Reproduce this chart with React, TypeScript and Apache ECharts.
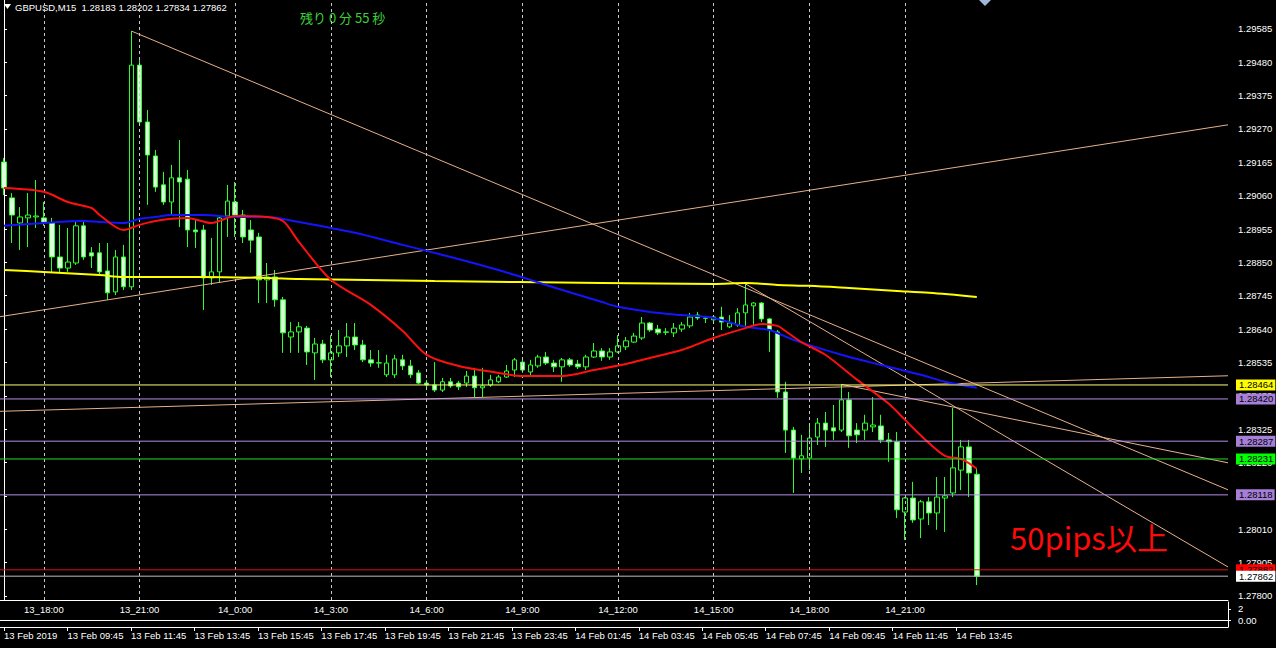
import React, { useEffect, useRef } from 'react';
import * as echarts from 'echarts';

// ---------- data ----------
const SLOT_COUNT = 154; // bar slots on the time axis (123 bars + empty right shift)

const open = [
  1.29166, 1.29053, 1.28974, 1.28990, 1.28993, 1.28990, 1.28974, 1.28867, 1.28832, 1.28848,
  1.28965, 1.28880, 1.28880, 1.28823, 1.28757, 1.28867, 1.28773, 1.29471, 1.29292, 1.29185,
  1.29094, 1.29040, 1.29116, 1.29112, 1.28952, 1.28952, 1.28801, 1.28820, 1.28996, 1.29040,
  1.28999, 1.28952, 1.28930, 1.28795, 1.28804, 1.28732, 1.28615, 1.28631, 1.28643, 1.28565,
  1.28593, 1.28543, 1.28565, 1.28587, 1.28615, 1.28590, 1.28543, 1.28533, 1.28496, 1.28496,
  1.28543, 1.28524, 1.28502, 1.28470, 1.28464, 1.28448, 1.28474, 1.28470, 1.28470, 1.28492,
  1.28455, 1.28464, 1.28474, 1.28489, 1.28511, 1.28536, 1.28505, 1.28524, 1.28552, 1.28533,
  1.28521, 1.28543, 1.28530, 1.28521, 1.28552, 1.28571, 1.28552, 1.28568, 1.28584, 1.28599,
  1.28612, 1.28659, 1.28640, 1.28631, 1.28628, 1.28640, 1.28650, 1.28684, 1.28675, 1.28669,
  1.28678, 1.28647, 1.28653, 1.28691, 1.28713, 1.28722, 1.28672, 1.28631, 1.28442, 1.28322,
  1.28231, 1.28234, 1.28300, 1.28344, 1.28329, 1.28322, 1.28417, 1.28322, 1.28322, 1.28332,
  1.28335, 1.28291, 1.28285, 1.28064, 1.28108, 1.28042, 1.28096, 1.28061, 1.28108, 1.28124,
  1.28196, 1.28269, 1.28183,
];
const high = [
  1.29179, 1.29068, 1.29024, 1.29068, 1.29109, 1.29040, 1.28990, 1.28968, 1.28958, 1.28977,
  1.28983, 1.28898, 1.28911, 1.28911, 1.28889, 1.28905, 1.29578, 1.29487, 1.29330, 1.29204,
  1.29135, 1.29157, 1.29235, 1.29141, 1.28983, 1.28968, 1.28927, 1.28999, 1.29094, 1.29103,
  1.29015, 1.28983, 1.28943, 1.28848, 1.28826, 1.28741, 1.28662, 1.28662, 1.28650, 1.28612,
  1.28606, 1.28621, 1.28637, 1.28659, 1.28659, 1.28606, 1.28574, 1.28574, 1.28559, 1.28559,
  1.28559, 1.28543, 1.28511, 1.28480, 1.28536, 1.28486, 1.28486, 1.28477, 1.28508, 1.28518,
  1.28518, 1.28496, 1.28496, 1.28527, 1.28549, 1.28543, 1.28543, 1.28559, 1.28568, 1.28543,
  1.28549, 1.28549, 1.28543, 1.28559, 1.28596, 1.28580, 1.28580, 1.28621, 1.28615, 1.28628,
  1.28678, 1.28662, 1.28653, 1.28643, 1.28659, 1.28662, 1.28691, 1.28694, 1.28678, 1.28684,
  1.28710, 1.28684, 1.28706, 1.28782, 1.28725, 1.28725, 1.28675, 1.28637, 1.28474, 1.28332,
  1.28307, 1.28344, 1.28360, 1.28379, 1.28401, 1.28466, 1.28442, 1.28344, 1.28370, 1.28426,
  1.28370, 1.28313, 1.28316, 1.28111, 1.28159, 1.28102, 1.28111, 1.28174, 1.28174, 1.28392,
  1.28291, 1.28291, 1.28202,
];
const low = [
  1.29062, 1.28911, 1.28889, 1.28898, 1.28958, 1.28965, 1.28817, 1.28817, 1.28820, 1.28842,
  1.28858, 1.28832, 1.28810, 1.28732, 1.28747, 1.28763, 1.28763, 1.29286, 1.29031, 1.29072,
  1.29031, 1.28999, 1.28961, 1.28898, 1.28895, 1.28700, 1.28779, 1.28785, 1.28930, 1.28930,
  1.28911, 1.28880, 1.28722, 1.28722, 1.28710, 1.28565, 1.28565, 1.28565, 1.28527, 1.28480,
  1.28533, 1.28489, 1.28552, 1.28552, 1.28574, 1.28536, 1.28521, 1.28518, 1.28489, 1.28486,
  1.28511, 1.28486, 1.28467, 1.28448, 1.28442, 1.28442, 1.28455, 1.28448, 1.28458, 1.28426,
  1.28426, 1.28458, 1.28470, 1.28486, 1.28489, 1.28502, 1.28489, 1.28518, 1.28527, 1.28505,
  1.28474, 1.28521, 1.28514, 1.28511, 1.28549, 1.28540, 1.28543, 1.28565, 1.28574, 1.28596,
  1.28606, 1.28631, 1.28621, 1.28621, 1.28615, 1.28631, 1.28643, 1.28669, 1.28659, 1.28662,
  1.28637, 1.28643, 1.28647, 1.28647, 1.28653, 1.28662, 1.28568, 1.28423, 1.28250, 1.28124,
  1.28187, 1.28196, 1.28275, 1.28269, 1.28291, 1.28316, 1.28266, 1.28281, 1.28291, 1.28316,
  1.28281, 1.28222, 1.28045, 1.27976, 1.28030, 1.27982, 1.28023, 1.28008, 1.28001, 1.28111,
  1.28133, 1.28111, 1.27834,
];
const close = [
  1.29084, 1.28999, 1.28993, 1.28999, 1.28996, 1.28977, 1.28867, 1.28832, 1.28851, 1.28965,
  1.28867, 1.28870, 1.28820, 1.28754, 1.28867, 1.28773, 1.29471, 1.29292, 1.29188, 1.29087,
  1.29040, 1.29116, 1.29103, 1.28952, 1.28946, 1.28801, 1.28820, 1.28990, 1.29043, 1.28999,
  1.28930, 1.28920, 1.28795, 1.28804, 1.28732, 1.28628, 1.28631, 1.28647, 1.28568, 1.28593,
  1.28543, 1.28565, 1.28587, 1.28615, 1.28590, 1.28543, 1.28533, 1.28534, 1.28533, 1.28546,
  1.28524, 1.28496, 1.28470, 1.28464, 1.28448, 1.28474, 1.28461, 1.28458, 1.28492, 1.28455,
  1.28461, 1.28480, 1.28489, 1.28508, 1.28543, 1.28511, 1.28527, 1.28552, 1.28533, 1.28521,
  1.28543, 1.28527, 1.28521, 1.28552, 1.28571, 1.28552, 1.28568, 1.28587, 1.28603, 1.28618,
  1.28659, 1.28637, 1.28628, 1.28630, 1.28643, 1.28653, 1.28678, 1.28675, 1.28674, 1.28678,
  1.28662, 1.28659, 1.28691, 1.28716, 1.28722, 1.28672, 1.28637, 1.28442, 1.28322, 1.28234,
  1.28241, 1.28297, 1.28344, 1.28322, 1.28319, 1.28417, 1.28304, 1.28307, 1.28344, 1.28338,
  1.28291, 1.28285, 1.28071, 1.28108, 1.28039, 1.28096, 1.28061, 1.28111, 1.28115, 1.28203,
  1.28269, 1.28187, 1.27862,
];

// moving averages: [bar index, price]
const maFast = [
  [0, 1.29084], [5, 1.29072], [8, 1.29040], [11, 1.29021], [12, 1.28999], [15, 1.28952],
  [17, 1.28968], [19, 1.28980], [21, 1.28987], [23, 1.28990], [26, 1.28974], [29, 1.28996],
  [33, 1.28993], [35, 1.28980], [37, 1.28914], [41, 1.28795], [46, 1.28716], [50, 1.28634],
  [53, 1.28559], [57, 1.28524], [62, 1.28502], [65, 1.28492], [70, 1.28492], [74, 1.28511],
  [78, 1.28530], [81, 1.28549], [85, 1.28574], [89, 1.28612], [93, 1.28643], [95, 1.28656],
  [97, 1.28650], [98, 1.28634], [100, 1.28599], [103, 1.28559], [107, 1.28480], [111, 1.28404],
  [113, 1.28354], [116, 1.28281], [118, 1.28241], [120, 1.28231], [121, 1.28218], [122, 1.28200],
];
const maMid = [
  [0, 1.28965], [5, 1.28974], [10, 1.28980], [12, 1.28977], [15, 1.28974], [17, 1.28987],
  [19, 1.28993], [21, 1.28999], [25, 1.28999], [29, 1.28993], [33, 1.28993], [37, 1.28977],
  [44, 1.28943], [50, 1.28905], [56, 1.28867], [62, 1.28826], [66, 1.28795], [70, 1.28763],
  [75, 1.28725], [77, 1.28710], [81, 1.28694], [85, 1.28684], [89, 1.28675], [93, 1.28647],
  [96, 1.28637], [99, 1.28606], [106, 1.28552], [110, 1.28527], [115, 1.28496], [118, 1.28474],
  [122, 1.28455],
];
const maSlow = [
  [0, 1.28826], [5, 1.28820], [12, 1.28810], [15, 1.28804], [25, 1.28804], [33, 1.28801],
  [37, 1.28798], [54, 1.28791], [75, 1.28785], [89, 1.28782], [93, 1.28785], [97, 1.28779],
  [101, 1.28776], [106, 1.28769], [112, 1.28760], [116, 1.28754], [122, 1.28741],
];

// trend lines: [bar index, price] end points
const trendA = [[-0.5, 1.28679], [153.5, 1.29283]];
const trendB = [[16, 1.29578], [153.5, 1.28134]];
const trendC = [[93, 1.28782], [153.5, 1.27891]];
const trendD = [[105, 1.28466], [153.5, 1.28219]];
const trendE = [[-0.5, 1.28381], [153.5, 1.28493]];

// horizontal price levels
const levelPrices = [1.28464, 1.28420, 1.28287, 1.28231, 1.28118, 1.27882, 1.27862];

// price axis tick labels
const priceTicks = [
  1.29585, 1.29480, 1.29375, 1.29270, 1.29165, 1.29060, 1.28955, 1.28850, 1.28745,
  1.28640, 1.28535, 1.28430, 1.28325, 1.28220, 1.28115, 1.28010, 1.27905, 1.27800,
];

// JST labels (indicator) at bar indices
const jstIdx = [5, 17, 29, 41, 53, 65, 77, 89, 101, 113];
const jstLabels = ['13_18:00', '13_21:00', '14_0:00', '14_3:00', '14_6:00', '14_9:00', '14_12:00', '14_15:00', '14_18:00', '14_21:00'];

// server time axis labels at bar indices
const timeIdx = [0, 8, 16, 24, 32, 40, 48, 56, 64, 72, 80, 88, 96, 104, 112, 120];
const timeLabels = [
  '13 Feb 2019', '13 Feb 09:45', '13 Feb 11:45', '13 Feb 13:45', '13 Feb 15:45', '13 Feb 17:45',
  '13 Feb 19:45', '13 Feb 21:45', '13 Feb 23:45', '14 Feb 01:45', '14 Feb 03:45', '14 Feb 05:45',
  '14 Feb 07:45', '14 Feb 09:45', '14 Feb 11:45', '14 Feb 13:45',
];

const subTicks = [0, 2];

// ---------- styling ----------
const FONT = '"Liberation Sans", Arial, sans-serif';
const levelStyles = [
  { line: '#ffff70', box: '#ffff00' },
  { line: '#b38ee6', box: '#a57fd8' },
  { line: '#b38ee6', box: '#a57fd8' },
  { line: '#22dd22', box: '#00ff00' },
  { line: '#b38ee6', box: '#a57fd8' },
  { line: '#e01010', box: '#ff0000' },
  { line: '#bdbdbd', box: '#ffffff' },
];
const TREND_COLOR = '#e7b08c';

function buildOption() {
  const slots = Array.from({ length: SLOT_COUNT }, (_, i) => String(i));
  const jstMap = new Map(jstIdx.map((k, j) => [k, jstLabels[j]]));
  const timeMap = new Map(timeIdx.map((k, j) => [k, timeLabels[j]]));
  const last = open.length - 1;
  const header = `GBPUSD,M15  ${open[last].toFixed(5)} ${high[last].toFixed(5)} ${low[last].toFixed(5)} ${close[last].toFixed(5)}`;

  const trendSeries = [trendA, trendB, trendC, trendD, trendE].map((d) => ({
    type: 'line',
    xAxisIndex: 1,
    yAxisIndex: 0,
    data: d,
    symbol: 'none',
    silent: true,
    z: 4,
    lineStyle: { color: TREND_COLOR, width: 1 },
  }));

  const maSeries = [
    { d: maSlow, c: '#ffff00' },
    { d: maMid, c: '#1414ff' },
    { d: maFast, c: '#ff1010' },
  ].map((m) => ({
    type: 'line',
    xAxisIndex: 1,
    yAxisIndex: 0,
    data: m.d,
    symbol: 'none',
    smooth: 0.3,
    silent: true,
    z: 5,
    lineStyle: { color: m.c, width: 2 },
  }));

  const levelSeries = levelPrices.map((p, j) => ({
    type: 'line',
    xAxisIndex: 1,
    yAxisIndex: 0,
    data: [[-0.5, p], [SLOT_COUNT - 0.5, p]],
    symbol: 'none',
    silent: true,
    clip: false,
    z: 6,
    lineStyle: { color: levelStyles[j].line, width: 1 },
    endLabel: {
      show: true,
      distance: 8,
      formatter: () => p.toFixed(5),
      backgroundColor: levelStyles[j].box,
      color: '#000000',
      fontSize: 9.5,
      fontFamily: FONT,
      padding: [1, 2, 0, 3],
    },
  }));

  return {
    animation: false,
    backgroundColor: '#000000',
    grid: [
      { left: -4, right: 48, top: 0, height: 600 },
      { left: -4, right: 48, top: 602, height: 25 },
      { left: -10, right: 54, top: 602, height: 25 },
    ],
    xAxis: [
      {
        type: 'category', gridIndex: 0, data: slots, boundaryGap: true,
        axisLine: { show: true, lineStyle: { color: '#ffffff', width: 1 } },
        axisTick: { show: false }, axisLabel: { show: false }, splitLine: { show: false },
      },
      { type: 'value', gridIndex: 0, min: -0.5, max: SLOT_COUNT - 0.5, show: false },
      {
        type: 'category', gridIndex: 1, position: 'top', data: slots, boundaryGap: true,
        axisLine: { show: true, lineStyle: { color: '#ffffff', width: 1 } },
        axisTick: { show: false },
        axisLabel: {
          inside: true, margin: 2, color: '#ffffff', fontSize: 9.5, fontFamily: FONT,
          interval: (i: number) => jstMap.has(i),
          formatter: (_v: string, i: number) => jstMap.get(i) ?? '',
        },
      },
      {
        type: 'category', gridIndex: 1, position: 'bottom', data: slots, boundaryGap: true,
        axisLine: { show: true, lineStyle: { color: '#ffffff', width: 1 } },
        axisTick: { show: false }, axisLabel: { show: false },
      },
      {
        type: 'category', gridIndex: 2, position: 'bottom', data: slots, boundaryGap: true,
        axisLine: { show: false },
        axisTick: {
          show: true, alignWithLabel: true, length: 4, lineStyle: { color: '#ffffff' },
          interval: (i: number) => timeMap.has(i),
        },
        axisLabel: {
          margin: 3, color: '#ffffff', fontSize: 9.5, fontFamily: FONT, align: 'left',
          interval: (i: number) => timeMap.has(i),
          formatter: (_v: string, i: number) => timeMap.get(i) ?? '',
        },
      },
    ],
    yAxis: [
      {
        type: 'value', gridIndex: 0, position: 'right', min: 1.27787, max: 1.29676,
        splitLine: { show: false },
        axisLine: { show: true, lineStyle: { color: '#ffffff', width: 1 } },
        axisTick: { show: true, length: 3, customValues: priceTicks, lineStyle: { color: '#ffffff' } },
        axisLabel: {
          customValues: priceTicks, margin: 10, color: '#ffffff', fontSize: 9.5, fontFamily: FONT,
          formatter: (v: number) => v.toFixed(5),
        },
      },
      {
        type: 'value', gridIndex: 1, position: 'right', min: -1.27, max: 3.27,
        splitLine: { show: false },
        axisLine: { show: true, lineStyle: { color: '#ffffff', width: 1 } },
        axisTick: { show: true, length: 3, customValues: subTicks, lineStyle: { color: '#ffffff' } },
        axisLabel: {
          customValues: subTicks, margin: 10, color: '#ffffff', fontSize: 9.5, fontFamily: FONT,
          formatter: (v: number) => (v === 0 ? '0.00' : String(v)),
        },
      },
      { type: 'value', gridIndex: 2, min: 0, max: 1, show: false },
    ],
    series: [
      {
        type: 'line', xAxisIndex: 1, yAxisIndex: 0, data: [], symbol: 'none', silent: true, z: 1,
        markLine: {
          silent: true, symbol: ['none', 'none'], label: { show: false },
          lineStyle: { color: '#c8c8c8', width: 1, type: [3, 3] },
          data: jstIdx.map((k) => ({ xAxis: k })),
        },
      },
      {
        type: 'candlestick', xAxisIndex: 0, yAxisIndex: 0, z: 3,
        barWidth: 5,
        data: open.map((o, i) => [o, close[i], low[i], high[i]]),
        itemStyle: {
          color: '#000000', color0: '#dcffdc',
          borderColor: '#2bff2b', borderColor0: '#2bff2b', borderWidth: 1,
        },
      },
      ...trendSeries,
      ...maSeries,
      ...levelSeries,
    ],
    graphic: [
      { type: 'polygon', shape: { points: [[4, 4], [11, 4], [7.5, 9]] }, style: { fill: '#ffffff' } },
      {
        type: 'text', x: 15, y: 7,
        style: { text: header, fill: '#ffffff', fontSize: 9.5, fontFamily: FONT, verticalAlign: 'middle' },
      },
      {
        type: 'text', x: 300, y: 17,
        style: { text: '残り 0 分 55 秒', fill: '#3ccf3c', fontSize: 13, fontFamily: '"Noto Sans CJK JP"', verticalAlign: 'middle' },
      },
      {
        type: 'text', x: 1010, y: 536,
        style: { text: '50pips以上', fill: '#ff0a0a', fontSize: 31, fontFamily: '"Noto Sans CJK JP"', verticalAlign: 'middle' },
      },
      { type: 'polygon', shape: { points: [[979, 0], [991, 0], [985, 6]] }, style: { fill: '#9fb8d8' } },
    ],
  };
}

export default function App() {
  const ref = useRef<HTMLDivElement>(null);
  useEffect(() => {
    if (!ref.current) return;
    const chart = echarts.init(ref.current, null, { renderer: 'svg' });
    chart.setOption(buildOption() as any);
    return () => chart.dispose();
  }, []);
  return (
    <div
      ref={ref}
      style={{ position: 'absolute', left: 0, top: 0, width: 1276, height: 648, background: '#000000' }}
    />
  );
}
